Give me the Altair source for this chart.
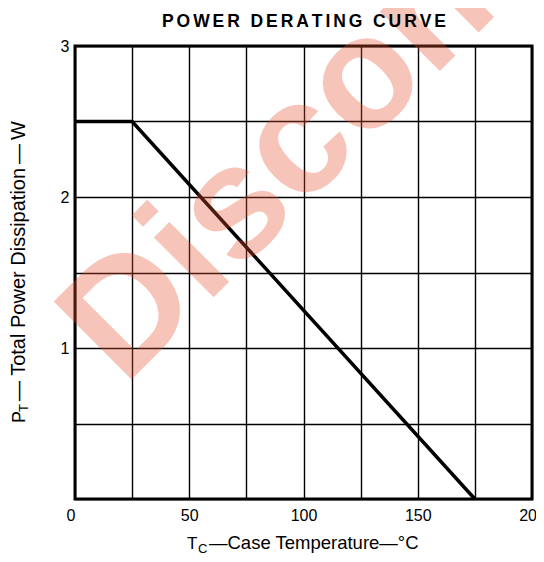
import altair as alt
import pandas as pd

# ---- data ----
temp_c = [0, 25, 175]          # case temperature (°C)
power_w = [2.5, 2.5, 0.0]      # total power dissipation (W)
x_grid = [0, 25, 50, 75, 100, 125, 150, 175, 200]
y_grid = [0, 0.5, 1, 1.5, 2, 2.5, 3]

HS = "\u200a\u200a"   # hair spaces for the title's wide tracking
TS = "\u2009"         # thin space
title_text = [HS.join("POWER DERATING CURVE")]
x_title_main = ["T"]
x_title_sub = ["C"]
x_title_rest = ["\u2014Case Temperature\u2014\u00b0C"]
y_title_main = ["P"]
y_title_sub = ["T"]
y_title_rest = ["\u2014 Total Power Dissipation" + TS + "\u2014" + TS + "W"]
watermark = ["Discontinued"]

FONT = "Liberation Sans"
W, H = 457, 453

df = pd.DataFrame({"temp": temp_c, "power": power_w})

line = alt.Chart(df).mark_line(
    color="black", strokeWidth=3.5, strokeCap="butt", strokeJoin="miter"
).encode(
    x=alt.X(
        "temp:Q",
        scale=alt.Scale(domain=[0, 200], nice=False, zero=False),
        axis=alt.Axis(
            values=x_grid, grid=True, gridColor="black", gridWidth=1.4, gridOpacity=1,
            domain=False, ticks=False, title=None, labelOverlap=False, labelFlush=False,
            labelExpr="datum.value % 50 == 0 ? format(datum.value, 'd') : ''",
            labelAlign={"condition": {"test": "datum.value == 0", "value": "right"},
                        "value": "center"},
            labelFont=FONT, labelFontSize=16, labelColor="black", labelPadding=8,
        ),
    ),
    y=alt.Y(
        "power:Q",
        scale=alt.Scale(domain=[0, 3], nice=False),
        axis=alt.Axis(
            values=y_grid, grid=True, gridColor="black", gridWidth=1.4, gridOpacity=1,
            domain=False, ticks=False, title=None, labelOverlap=False, labelFlush=False,
            labelExpr="datum.value % 1 == 0 && datum.value > 0 ? format(datum.value, 'd') : ''",
            labelFont=FONT, labelFontSize=16, labelColor="black", labelPadding=6,
        ),
    ),
)


def text_layer(values, x, y, size, angle=0, bold=False, align="left", **kw):
    d = pd.DataFrame({"label": values})
    return alt.Chart(d).mark_text(
        font=FONT, fontSize=size, fontWeight="bold" if bold else "normal",
        angle=angle, align=align, baseline="alphabetic",
        color=kw.pop("color", "black"), **kw,
    ).encode(text="label:N", x=alt.value(x), y=alt.value(y))


wm = text_layer(watermark, 49, 341, 160, angle=315, bold=True,
                color="#e8502f", opacity=0.33)

title = text_layer(title_text, 229, -19, 17.5, bold=True, align="center")

xt1 = text_layer(x_title_main, 112, 503, 17)
xt2 = text_layer(x_title_sub, 123, 507, 13)
xt3 = text_layer(x_title_rest, 134, 503, 18.5)

yt1 = text_layer(y_title_main, -50, 377, 18, angle=270)
yt2 = text_layer(y_title_sub, -47, 366, 13, angle=270)
yt3 = text_layer(y_title_rest, -50, 355, 20, angle=270)

chart = alt.layer(line, wm, title, xt1, xt2, xt3, yt1, yt2, yt3).properties(
    width=W, height=H,
    autosize=alt.AutoSizeParams(type="none"),
    padding={"left": 67, "top": 38, "right": 4, "bottom": 55},
    background="white",
).configure_view(stroke="black", strokeWidth=3)

chart.save("out.html", embed_options={"renderer": "svg", "actions": False})
